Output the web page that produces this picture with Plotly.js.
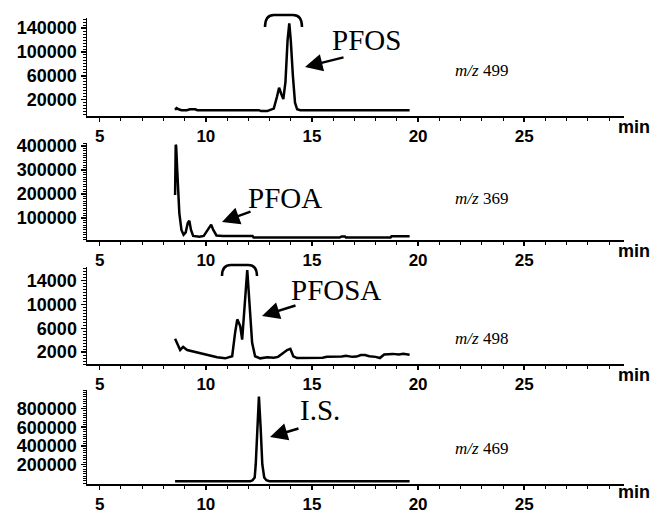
<!DOCTYPE html>
<html>
<head>
<meta charset="utf-8">
<script src="https://cdn.plot.ly/plotly-3.0.1.min.js"></script>
<style>html,body{margin:0;padding:0;background:#fff;}#chart{width:650px;height:515px;}</style>
</head>
<body>
<div id="chart"></div>
<script>
// ---- data (time in min, intensity) ----
const tPFOS = [8.55,8.62,8.72,8.85,9.1,9.25,9.5,9.6,10.0,10.8,10.85,10.9,12.5,12.6,12.9,13.0,13.2,13.35,13.45,13.55,13.65,13.75,13.85,13.93,14.0,14.1,14.2,14.3,14.45,19.6];
const iPFOS = [3000,6000,4000,2500,2500,4000,4000,2500,2500,2500,1500,2500,2500,1000,1000,2500,5000,25000,40000,30000,21000,50000,120000,148000,120000,60000,15000,4000,2500,2500];

const tPFOA = [8.55,8.58,8.6,8.65,8.75,8.85,8.95,9.05,9.15,9.22,9.3,9.4,9.7,9.9,10.1,10.25,10.35,10.5,10.8,12.2,12.25,16.3,16.4,16.55,16.6,18.7,18.75,19.6];
const iPFOA = [195000,405000,400000,300000,120000,50000,30000,40000,80000,88000,50000,25000,22000,25000,55000,72000,50000,27000,25000,25000,18000,18000,23000,23000,18000,18000,24000,24000];

const tPFOSA = [8.55,8.69,8.79,8.88,8.93,9.12,9.73,10.53,10.91,11.24,11.38,11.48,11.62,11.71,11.95,12.04,12.18,12.32,12.56,12.89,13.2,13.4,13.83,13.98,14.12,14.3,15.0,15.5,15.7,16.4,16.6,16.9,17.1,17.3,17.5,17.7,18.0,18.2,18.4,18.8,19.1,19.3,19.6];
const iPFOSA = [4260,3200,2350,2700,2870,2350,1830,1130,950,1300,5300,7500,6350,4090,15800,11000,3560,1300,950,1130,1050,1200,2350,2550,1300,1000,1000,1050,1200,1250,1400,1200,1250,1500,1500,1300,1200,1000,1600,1700,1600,1700,1550];

const tIS = [8.55,12.1,12.2,12.3,12.35,12.42,12.5,12.58,12.66,12.75,12.85,13.0,19.6];
const iIS = [20000,20000,30000,60000,200000,600000,930000,600000,200000,60000,30000,20000,20000];

const xTicks = [5,10,15,20,25];
const yTicks1 = [20000,60000,100000,140000];
const yTicks2 = [100000,200000,300000,400000];
const yTicks3 = [2000,6000,10000,14000];
const yTicks4 = [200000,400000,600000,800000];
const compounds = ['PFOS','PFOA','PFOSA','I.S.'];
const masses = ['499','369','498','469'];

// ---- layout helpers ----
const L = 87, R = 624, T = 18, B = 484;
const px = x => (x - L) / (R - L);
const py = y => (B - y) / (B - T);

const tickFont = {family: 'Liberation Sans, Arial, sans-serif', size: 18, color: '#000', weight: 'bold'};
const xTickFont = {family: 'Liberation Sans, Arial, sans-serif', size: 17, color: '#000', weight: 'bold'};
const domains = [[py(116), py(18)], [py(240), py(143)], [py(364), py(267)], [py(484), py(390)]];
const yRanges = [[-7300, 157000], [8000, 412000], [0, 16300], [-10000, 1000000]];
const yTickSets = [yTicks1, yTicks2, yTicks3, yTicks4];
const minorD = [5000, 10000, 500, 25000];

const series = [[tPFOS, iPFOS], [tPFOA, iPFOA], [tPFOSA, iPFOSA], [tIS, iIS]];
const data = series.map((s, i) => ({
  x: s[0], y: s[1], type: 'scatter', mode: 'lines',
  line: {color: '#000', width: 2.5},
  xaxis: i === 0 ? 'x' : 'x' + (i + 1),
  yaxis: i === 0 ? 'y' : 'y' + (i + 1),
  hoverinfo: 'skip', showlegend: false
}));

const layout = {
  width: 650, height: 515,
  margin: {l: L, r: 650 - R, t: T, b: 515 - B},
  paper_bgcolor: '#fff', plot_bgcolor: '#fff',
  showlegend: false,
  annotations: [], shapes: []
};

for (let i = 0; i < 4; i++) {
  const xn = i === 0 ? 'xaxis' : 'xaxis' + (i + 1);
  const yn = i === 0 ? 'yaxis' : 'yaxis' + (i + 1);
  layout[xn] = {
    domain: [0, 1], anchor: i === 0 ? 'y' : 'y' + (i + 1),
    range: [4.4, 29.7], tickvals: xTicks, ticktext: xTicks.map(String),
    ticks: 'outside', ticklen: 4, tickwidth: 1.5, tickcolor: '#000',
    minor: {dtick: 1, tick0: 0, ticks: 'outside', ticklen: 3, tickwidth: 1, tickcolor: '#000'},
    showline: true, linewidth: 2, linecolor: '#000',
    showgrid: false, zeroline: false, tickfont: xTickFont
  };
  layout[yn] = {
    domain: domains[i], anchor: i === 0 ? 'x' : 'x' + (i + 1),
    range: yRanges[i], tickvals: yTickSets[i], ticktext: yTickSets[i].map(String),
    ticks: 'outside', ticklen: 5, tickwidth: 1.5, tickcolor: '#000',
    minor: {dtick: minorD[i], ticks: 'outside', ticklen: 3, tickwidth: 1, tickcolor: '#000'},
    showline: true, linewidth: 1.5, linecolor: '#000',
    showgrid: false, zeroline: false, tickfont: tickFont
  };
}

// "min" labels
[127, 251, 375, 492].forEach(y => layout.annotations.push({
  xref: 'paper', yref: 'paper', x: px(634), y: py(y), text: 'min', showarrow: false,
  font: tickFont, xanchor: 'center', yanchor: 'middle'
}));

const serif = {family: 'Liberation Serif, Times New Roman, serif', color: '#000'};
// compound labels
const labelPos = [[366, 40], [285, 198], [336, 290], [320, 410]];
compounds.forEach((c, i) => layout.annotations.push({
  xref: 'paper', yref: 'paper', x: px(labelPos[i][0]), y: py(labelPos[i][1]), text: c,
  showarrow: false, font: Object.assign({size: 29}, serif), xanchor: 'center', yanchor: 'middle'
}));
// m/z labels
const mzY = [70, 198, 338, 448];
masses.forEach((m, i) => layout.annotations.push({
  xref: 'paper', yref: 'paper', x: px(482), y: py(mzY[i]), text: '<i>m/z</i> ' + m,
  showarrow: false, font: Object.assign({size: 17}, serif), xanchor: 'center', yanchor: 'middle'
}));
// arrows: head (x,y) px, tail offset
const arrows = [[305, 67, 40, -10], [222, 222, 30, -11], [262, 316, 35, -11], [270, 437, 30, -9]];
arrows.forEach(a => layout.annotations.push({
  xref: 'paper', yref: 'paper', x: px(a[0]), y: py(a[1]), ax: a[2], ay: a[3], text: '',
  showarrow: true, arrowhead: 2, arrowsize: 1.4, arrowwidth: 2.5, arrowcolor: '#000'
}));
// brackets
function bracket(x0, x1, yTop, yEnd) {
  const r = 9;
  return {
    type: 'path', xref: 'paper', yref: 'paper',
    path: `M ${px(x0)} ${py(yEnd)} Q ${px(x0)} ${py(yTop)} ${px(x0 + r)} ${py(yTop)} L ${px(x1 - r)} ${py(yTop)} Q ${px(x1)} ${py(yTop)} ${px(x1)} ${py(yEnd)}`,
    line: {color: '#000', width: 2.5}
  };
}
layout.shapes.push(bracket(265, 302, 15, 27));
layout.shapes.push(bracket(222, 257, 265, 276));

Plotly.newPlot('chart', data, layout, {staticPlot: true, displayModeBar: false});
</script>
</body>
</html>
